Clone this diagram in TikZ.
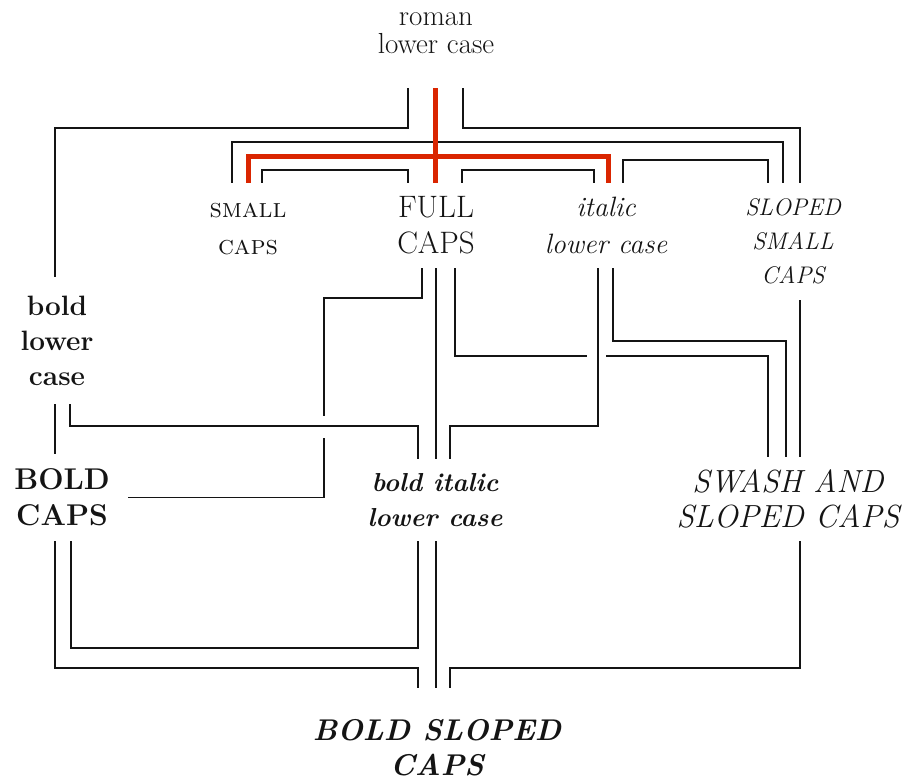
\documentclass[tikz,border=0pt]{standalone}
\usepackage{fontspec}
\usetikzlibrary{calc}
\definecolor{redline}{RGB}{218,37,0}
\definecolor{ink}{RGB}{20,20,20}
\begin{document}
\begin{tikzpicture}[x=1pt,y=-1pt,
  lbl/.style={align=center,inner sep=0pt,text=ink,anchor=center},
  conn/.style={draw=ink,line width=1.6pt},
  hot/.style={draw=redline,line width=5pt}]
\useasboundingbox (0,0) rectangle (912,782);
% labels
\node[lbl,font=\fontsize{29}{28}\selectfont,minimum height=110pt] (roman) at (436,33) {roman\\lower case};
\node[lbl,font=\fontsize{27}{37}\selectfont\scshape\addfontfeature{LetterSpace=13},minimum height=92pt] (small) at (248,229) {small\\caps};
\node[lbl,font=\fontsize{31}{36}\selectfont,minimum height=85pt] (full) at (436,225.5) {FULL\\CAPS};
\node[lbl,font=\fontsize{28}{37}\selectfont\itshape,minimum height=85pt] (italic) at (606,225.5) {italic\\lower case};
\node[lbl,font=\fontsize{24}{34}\selectfont\itshape\addfontfeature{LetterSpace=16},minimum height=117pt] (sloped) at (793,241.5) {SLOPED\\SMALL\\CAPS};
\node[lbl,font=\fontsize{28}{35}\selectfont\bfseries,minimum height=127pt] (boldlc) at (57,340.5) {bold\\lower\\case};
\node[lbl,font=\fontsize{30}{36}\selectfont\bfseries,minimum height=87pt] (boldcaps) at (62,497.5) {BOLD\\CAPS};
\node[lbl,font=\fontsize{26}{35}\selectfont\bfseries\itshape,minimum height=82pt] (bolditalic) at (435,500) {bold italic\\lower case};
\node[lbl,font=\fontsize{32}{35}\selectfont\itshape\addfontfeature{LetterSpace=13},minimum height=84pt] (swash) at (788,499) {SWASH AND\\SLOPED CAPS};
\node[lbl,font=\fontsize{30}{35}\selectfont\bfseries\itshape,minimum height=120pt] (boldsloped) at (437,748) {BOLD SLOPED\\CAPS};
% black connectors, top level
\draw[conn] ([xshift=-28pt]roman.south) -- ++(0,40) -| ([xshift=-2pt]boldlc.north);
\draw[conn] ([xshift=27pt]roman.south) -- ++(0,40) -| ([xshift=7pt]sloped.north);
\draw[conn] ([xshift=-16pt]small.north) -- ++(0,-41) -| ([xshift=-10pt]sloped.north);
\draw[conn] ([xshift=14pt]small.north) -- ++(0,-13) -| ([xshift=-28pt]full.north);
\draw[conn] ([xshift=26pt]full.north) -- ++(0,-13) -| ([xshift=-12pt]italic.north);
\draw[conn] ([xshift=17pt]italic.north) -- ++(0,-23) -| ([xshift=-25pt]sloped.north);
% red connectors
\draw[hot] ([xshift=-1pt]roman.south) -- ([xshift=-1pt]full.north);
\draw[hot] (small.north) -- ++(0,-26) -| ([xshift=2pt]italic.north);
% middle level
\draw[conn] ([xshift=-14pt]full.south) -- ++(0,30) -- ++(-98,0) -- ++(0,118);
\draw[conn] ([xshift=66pt]boldcaps.center) -- ++(196,0) -- ++(0,-60);
\draw[conn] (full.south) -- ([xshift=1pt]bolditalic.north);
\draw[conn] ([xshift=1pt]bolditalic.south) -- ([xshift=-1pt]boldsloped.north);
\draw[conn] ([xshift=19pt]full.south) -- ++(0,88) -- ++(132,0);
\draw[conn] ([xshift=-20pt]swash.north) -- ++(0,-101) -- ++(-162,0);
\draw[conn] ([xshift=-8pt]italic.south) -- ++(0,158) -| ([xshift=15pt]bolditalic.north);
\draw[conn] ([xshift=7pt]italic.south) -- ++(0,73) -| ([xshift=-2pt]swash.north);
\draw[conn] ([xshift=7pt]sloped.south) -- ([xshift=12pt]swash.north);
\draw[conn] ([xshift=-2pt]boldlc.south) -- ([xshift=-7pt]boldcaps.north);
\draw[conn] ([xshift=13pt]boldlc.south) -- ++(0,22) -| ([xshift=-17pt]bolditalic.north);
% bottom level
\draw[conn] ([xshift=9pt]boldcaps.south) -- ++(0,107) -| ([xshift=-17pt]bolditalic.south);
\draw[conn] ([xshift=-7pt]boldcaps.south) -- ++(0,127) -| ([xshift=-19pt]boldsloped.north);
\draw[conn] ([xshift=12pt]swash.south) -- ++(0,127) -| ([xshift=13pt]boldsloped.north);
\end{tikzpicture}
\end{document}
